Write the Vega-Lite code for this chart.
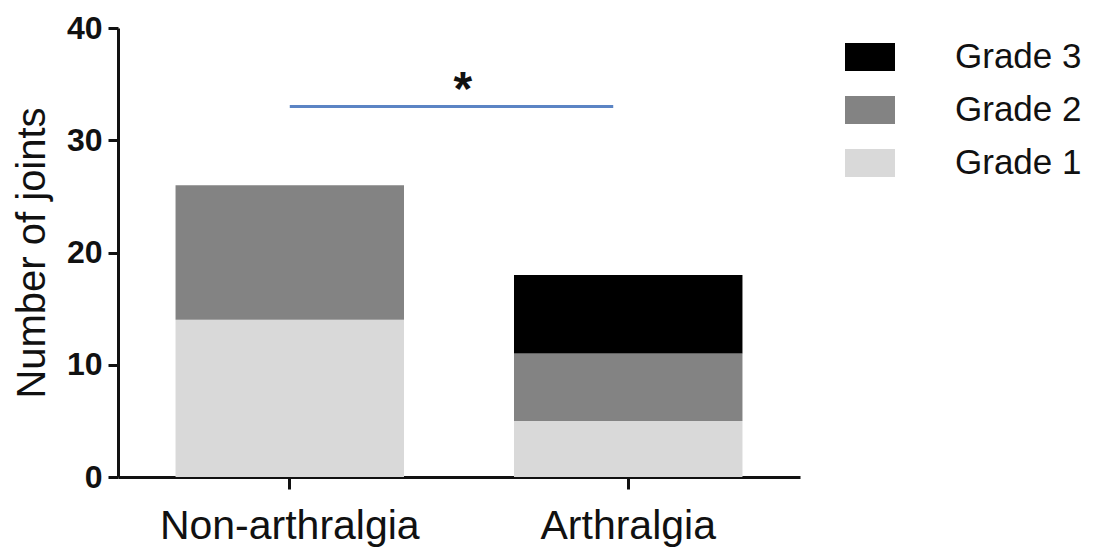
{
  "$schema": "https://vega.github.io/schema/vega-lite/v6.json",
  "width": 682,
  "height": 449,
  "autosize": {"type": "none"},
  "padding": {"left": 118, "top": 28, "right": 297, "bottom": 79},
  "background": "white",
  "config": {
    "view": {"stroke": null},
    "font": "Liberation Sans"
  },
  "datasets": {
    "bars": [
      {"group": "Non-arthralgia", "grade": "Grade 1", "count": 14},
      {"group": "Non-arthralgia", "grade": "Grade 2", "count": 12},
      {"group": "Arthralgia", "grade": "Grade 1", "count": 5},
      {"group": "Arthralgia", "grade": "Grade 2", "count": 6},
      {"group": "Arthralgia", "grade": "Grade 3", "count": 7}
    ],
    "sig": [
      {"from": "Non-arthralgia", "to": "Arthralgia", "y": 33, "label": "*"}
    ]
  },
  "layer": [
    {
      "data": {"name": "bars"},
      "mark": {"type": "bar"},
      "encoding": {
        "x": {
          "field": "group",
          "type": "nominal",
          "sort": null,
          "scale": {"domain": ["Non-arthralgia", "Arthralgia"], "paddingInner": 0.325, "paddingOuter": 0.17},
          "axis": {
            "title": null,
            "labelAngle": 0,
            "labelFontSize": 41,
            "labelLimit": 0,
            "labelColor": "#111111",
            "labelPadding": 17,
            "domainColor": "#111111",
            "domainWidth": 3,
            "tickColor": "#111111",
            "tickWidth": 3,
            "tickSize": 12
          }
        },
        "y": {
          "field": "count",
          "type": "quantitative",
          "aggregate": "sum",
          "stack": "zero",
          "scale": {"domain": [0, 40], "nice": false},
          "axis": {
            "title": "Number of joints",
            "titleFontSize": 40,
            "titleFontWeight": "normal",
            "titleColor": "#111111",
            "titlePadding": 14,
            "values": [0, 10, 20, 30, 40],
            "labelFontSize": 32,
            "labelFontWeight": "bold",
            "labelColor": "#111111",
            "labelPadding": 6,
            "grid": false,
            "domainColor": "#111111",
            "domainWidth": 3,
            "tickColor": "#111111",
            "tickWidth": 3,
            "tickSize": 10
          }
        },
        "color": {
          "field": "grade",
          "type": "nominal",
          "scale": {
            "domain": ["Grade 3", "Grade 2", "Grade 1"],
            "range": ["#000000", "#838383", "#d9d9d9"]
          },
          "legend": {
            "title": null,
            "orient": "none",
            "legendX": 727,
            "legendY": 4,
            "symbolType": "M-1,-0.56H1V0.56H-1Z",
            "symbolSize": 2500,
            "symbolStrokeWidth": 0,
            "labelFontSize": 35,
            "labelColor": "#111111",
            "labelOffset": 60,
            "labelLimit": 0,
            "rowPadding": 10
          }
        },
        "order": {"field": "grade", "type": "ordinal", "sort": "ascending"}
      }
    },
    {
      "data": {"name": "sig"},
      "mark": {"type": "rule", "color": "#5b84c4", "strokeWidth": 3, "x2Offset": -15},
      "encoding": {
        "x": {"field": "from", "type": "nominal", "sort": null},
        "x2": {"field": "to"},
        "y": {"field": "y", "type": "quantitative"}
      }
    },
    {
      "data": {"name": "sig"},
      "mark": {"type": "text", "fontSize": 48, "fontWeight": "bold", "color": "#111111", "baseline": "alphabetic", "align": "center", "dx": 173, "dy": -2},
      "encoding": {
        "x": {"field": "from", "type": "nominal", "sort": null},
        "y": {"field": "y", "type": "quantitative"},
        "text": {"field": "label"}
      }
    }
  ]
}
